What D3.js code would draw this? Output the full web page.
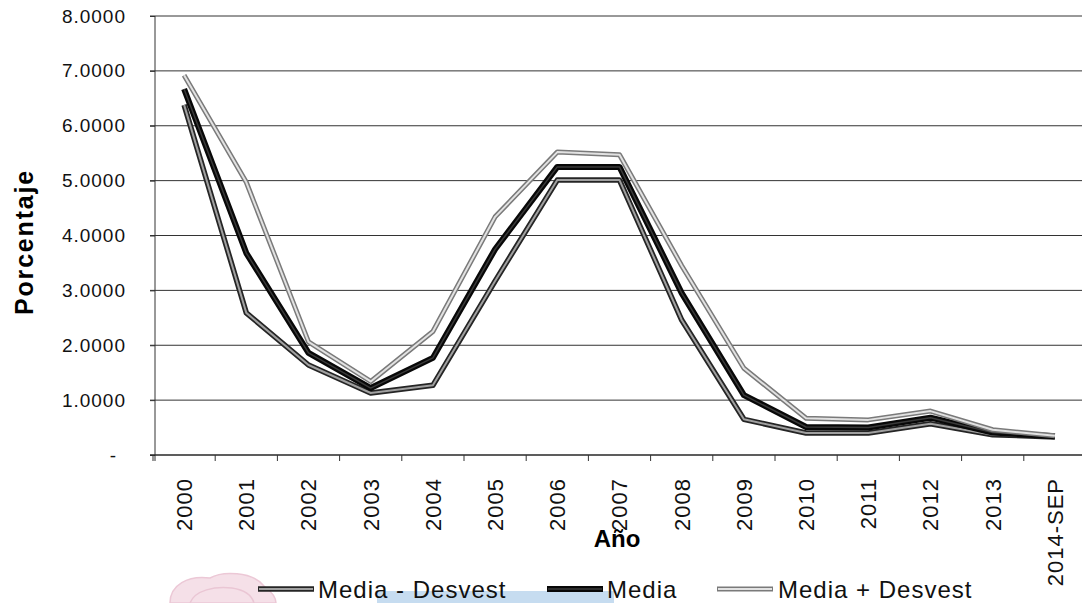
<!DOCTYPE html>
<html lang="es">
<head>
  <meta charset="UTF-8">
  <title>Porcentaje por año</title>
  <script src="https://d3js.org/d3.v7.min.js"></script>
  <style>
    body { margin: 0; background: #fff; font-family: Arial, "Liberation Sans", sans-serif; }
    svg { display: block; }
    .y-axis text { font-size: 19px; letter-spacing: 1px; fill: #111; }
    .x-axis text { font-size: 22px; letter-spacing: 1px; fill: #111; }
    .axis-title { font-weight: bold; fill: #000; }
    .legend text { font-size: 24px; letter-spacing: 1px; fill: #111; }
  </style>
</head>
<body>
  <svg width="1082" height="603"></svg>
  <script>
    // data
    const years = ["2000","2001","2002","2003","2004","2005","2006","2007","2008","2009","2010","2011","2012","2013","2014-SEP"];
    const mediaMenos = [6.38, 2.59, 1.64, 1.13, 1.27, 3.17, 5.01, 5.01, 2.46, 0.65, 0.40, 0.40, 0.57, 0.37, 0.33];
    const media      = [6.67, 3.68, 1.86, 1.22, 1.77, 3.75, 5.25, 5.25, 2.95, 1.09, 0.51, 0.50, 0.68, 0.41, 0.34];
    const mediaMas   = [6.92, 4.97, 2.06, 1.34, 2.25, 4.34, 5.52, 5.47, 3.45, 1.58, 0.67, 0.64, 0.80, 0.46, 0.35];
    const yTicks = [0, 1, 2, 3, 4, 5, 6, 7, 8];

    const series = [
      { name: "Media - Desvest", values: mediaMenos, outer: "#252525", outerW: 5.5, inner: "#a0a0a0", innerW: 2 },
      { name: "Media",           values: media,      outer: "#080808", outerW: 6, inner: "#3a3a3a", innerW: 1.5 },
      { name: "Media + Desvest", values: mediaMas,   outer: "#7a7a7a", outerW: 5, inner: "#e2e2e2", innerW: 2 }
    ];

    const svg = d3.select("svg");
    const plotLeft = 155, plotRight = 1086, plotTop = 16, plotBottom = 455;

    const x = d3.scaleBand().domain(years).range([plotLeft - 2, plotRight]);
    const y = d3.scaleLinear().domain([0, 8]).range([plotBottom, plotTop]);
    const cx = d => x(d) + x.bandwidth() / 2;

    // watermark traces from the scan
    const wm = svg.append("g").attr("class", "watermark");
    wm.append("rect").attr("x", 377).attr("y", 591).attr("width", 237).attr("height", 12).attr("fill", "#c6dcf0");
    wm.append("path")
      .attr("d", "M170,603 C170,585 188,575 210,578 C222,571 252,571 264,586 C272,592 276,598 276,603 Z")
      .attr("fill", "#f5e0e8").attr("stroke", "#ecc8d6").attr("stroke-width", 1.5);
    wm.append("path")
      .attr("d", "M190,603 C195,590 215,586 232,588 C245,590 252,596 254,603")
      .attr("fill", "none").attr("stroke", "#eac6d4").attr("stroke-width", 1.5);

    // gridlines
    svg.append("g").selectAll("line")
      .data(yTicks)
      .enter().append("line")
      .attr("x1", plotLeft - 5).attr("x2", 1082)
      .attr("y1", d => y(d)).attr("y2", d => y(d))
      .attr("stroke", "#333").attr("stroke-width", 1);

    // y axis
    const yAxis = svg.append("g")
      .attr("class", "y-axis")
      .attr("transform", `translate(${plotLeft}, 0)`)
      .call(d3.axisLeft(y).tickValues(yTicks).tickSize(5).tickPadding(24)
        .tickFormat(d => d === 0 ? "-" : d3.format(".4f")(d)));
    yAxis.select(".domain").attr("stroke", "#333").attr("d", `M0,${plotTop}V${plotBottom + 6}`);
    yAxis.selectAll(".tick line").attr("stroke", "#333");
    yAxis.selectAll(".tick text").filter(d => d === 0).attr("dx", -9);

    // x axis
    const xAxis = svg.append("g")
      .attr("class", "x-axis")
      .attr("transform", `translate(0, ${plotBottom})`)
      .call(d3.axisBottom(x).tickSize(0).tickPadding(0));
    xAxis.select(".domain").remove();
    xAxis.selectAll(".tick text")
      .attr("transform", "rotate(-90)")
      .attr("text-anchor", "end")
      .attr("x", -23).attr("y", 0).attr("dy", "0.36em");
    svg.append("line")
      .attr("x1", plotLeft - 5).attr("x2", 1082).attr("y1", plotBottom).attr("y2", plotBottom)
      .attr("stroke", "#222").attr("stroke-width", 1.2);
    svg.append("g").selectAll("line")
      .data(years.concat(["end"]))
      .enter().append("line")
      .attr("x1", d => d === "end" ? x.range()[1] : x(d))
      .attr("x2", d => d === "end" ? x.range()[1] : x(d))
      .attr("y1", plotBottom).attr("y2", plotBottom + 6)
      .attr("stroke", "#333");

    // axis titles
    svg.append("text")
      .attr("class", "axis-title")
      .attr("transform", "translate(33, 242) rotate(-90)")
      .attr("text-anchor", "middle")
      .style("font-size", "25px").style("letter-spacing", "1.8px")
      .text("Porcentaje");
    svg.append("text")
      .attr("class", "axis-title")
      .attr("x", 617).attr("y", 547)
      .attr("text-anchor", "middle")
      .style("font-size", "24px")
      .text("Año");

    // series lines
    const line = d3.line()
      .x((v, i) => cx(years[i]))
      .y(v => y(v));

    series.forEach(s => {
      svg.append("path").datum(s.values)
        .attr("d", line).attr("fill", "none")
        .attr("stroke", s.outer).attr("stroke-width", s.outerW)
        .attr("stroke-linejoin", "round");
      svg.append("path").datum(s.values)
        .attr("d", line).attr("fill", "none")
        .attr("stroke", s.inner).attr("stroke-width", s.innerW)
        .attr("stroke-linejoin", "round");
    });

    // legend
    const legendX = [258, 547, 717];
    const legend = svg.append("g").attr("class", "legend");
    series.forEach((s, i) => {
      const g = legend.append("g").attr("transform", `translate(${legendX[i]}, 589)`);
      g.append("line").attr("x1", 0).attr("x2", 56)
        .attr("stroke", s.outer).attr("stroke-width", s.outerW);
      g.append("line").attr("x1", 1).attr("x2", 55)
        .attr("stroke", s.inner).attr("stroke-width", s.innerW);
      g.append("text").attr("x", i === 2 ? 61 : 60).attr("y", 9).text(s.name);
    });
  </script>
</body>
</html>
